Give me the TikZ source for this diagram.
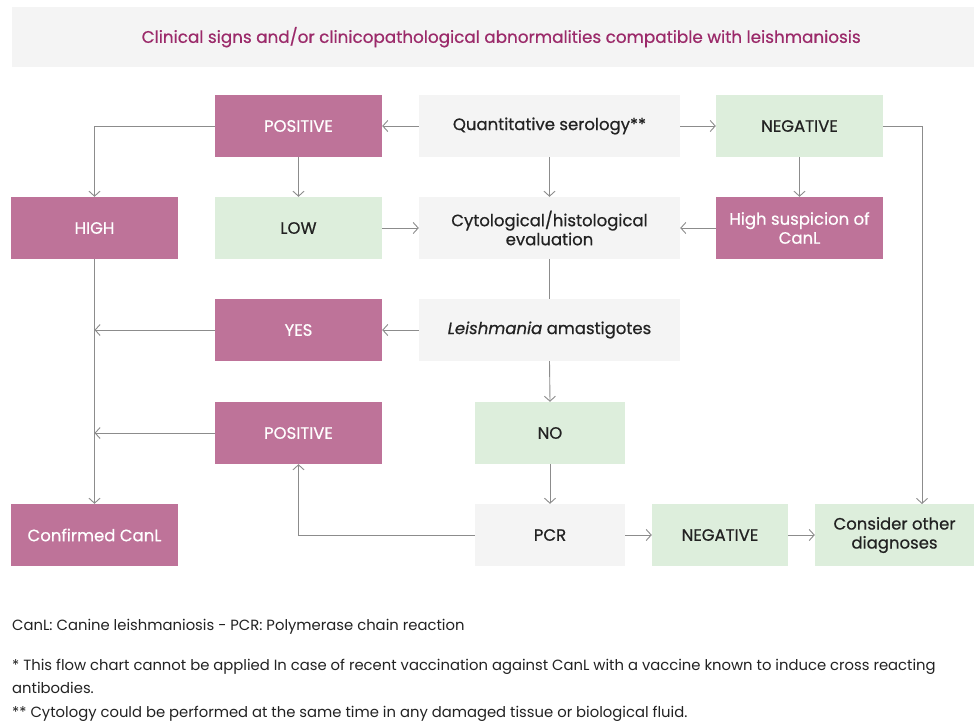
\documentclass[tikz,border=0pt]{standalone}
\usepackage{fontspec}
\setmainfont{Poppins}
\newfontfamily\pmed{Poppins}[FakeBold=0.6]
\usetikzlibrary{arrows.meta,calc}
\definecolor{mag}{HTML}{BE7399}
\definecolor{grn}{HTML}{DDEEDC}
\definecolor{gry}{HTML}{F4F4F4}
\definecolor{ttl}{HTML}{9B2A6A}
\definecolor{lin}{HTML}{8C8C8C}
\definecolor{txt}{HTML}{222222}
\begin{document}
\begin{tikzpicture}[x=1pt,y=-1pt,
  box/.style={rectangle,inner sep=2pt,minimum height=62pt,minimum width=167pt,align=center,font=\pmed\fontsize{16.5}{19}\selectfont},
  magbox/.style={box,fill=mag,text=white},
  grnbox/.style={box,fill=grn,text=txt},
  grybox/.style={box,fill=gry,text=txt},
  arr/.style={draw=lin,line width=0.9pt,-{Straight Barb[length=5pt,width=11pt,line width=0.9pt]}},
  pln/.style={draw=lin,line width=0.9pt},
  foot/.style={anchor=west,inner sep=0pt,text=txt,font=\fontsize{14.8}{16}\selectfont}]
\clip (0,0) rectangle (974,723);
\fill[white] (0,0) rectangle (974,723);
% title
\node[fill=gry,minimum width=962pt,minimum height=60pt,anchor=north west,inner sep=0pt,text=ttl,font=\pmed\fontsize{16.8}{19}\selectfont] (title) at (12,7) {\hspace*{16pt}Clinical signs and/or clinicopathological abnormalities compatible with leishmaniosis};
% row 1
\node[magbox] (pos1) at (298.5,126) {POSITIVE};
\node[grybox,minimum width=261pt] (quant) at (549.5,126) {Quantitative serology**};
\node[grnbox] (neg1) at (799.5,126) {NEGATIVE};
% row 2
\node[magbox] (high) at (94.5,228) {HIGH};
\node[grnbox] (low) at (298.5,228) {LOW};
\node[grybox,minimum width=261pt] (cyto) at (549.5,228) {Cytological/histological\\evaluation};
\node[magbox] (susp) at (799.5,228) {High suspicion of\\CanL};
% row 3
\node[magbox] (yes) at (298.5,330) {YES};
\node[grybox,minimum width=261pt] (leish) at (549.5,330) {\textit{Leishmania} amastigotes};
% row 4
\node[magbox] (pos2) at (298.5,433) {POSITIVE};
\node[grnbox,minimum width=150pt] (no) at (550,433) {NO};
% row 5
\node[magbox] (conf) at (94.5,535) {Confirmed CanL};
\node[grybox,minimum width=150pt] (pcr) at (550,535) {PCR};
\node[grnbox,minimum width=136pt] (neg2) at (720,535) {NEGATIVE};
\node[grnbox,minimum width=159pt] (cons) at (894.5,535) {Consider other\\diagnoses};
\coordinate (ctop) at (922,504);
% connectors
\draw[arr] (quant.west) -- (pos1.east);
\draw[arr] (quant.east) -- (neg1.west);
\draw[arr] (quant.south) -- (cyto.north);
\draw[arr] (pos1.west) -| (high.north);
\draw[arr] (pos1.south) -- (low.north);
\draw[arr] (low.east) -- (cyto.west);
\draw[arr] (neg1.south) -- (susp.north);
\draw[arr] (susp.west) -- (cyto.east);
\draw[arr] (neg1.east) -| (ctop);
\draw[pln] (cyto.south) -- (leish.north);
\draw[arr] (leish.west) -- (yes.east);
\draw[arr] (leish.south) -- (no.north);
\draw[arr] (no.south) -- (pcr.north);
\draw[arr] (pcr.east) -- (neg2.west);
\draw[arr] (neg2.east) -- (cons.west);
\draw[arr] (pcr.west) -| (pos2.south);
\draw[arr] (high.south) -- (conf.north);
\draw[arr] (yes.west) -- (yes.west -| high.south);
\draw[arr] (pos2.west) -- (pos2.west -| high.south);
% footnotes
\node[foot] (f1) at (12,627) {CanL: Canine leishmaniosis - PCR: Polymerase chain reaction};
\node[foot] (f2) at (12,667) {* This flow chart cannot be applied In case of recent vaccination against CanL with a vaccine known to induce cross reacting};
\node[foot] (f3) at (12,688) {antibodies.};
\node[foot] (f4) at (12,714) {** Cytology could be performed at the same time in any damaged tissue or biological fluid.};
\end{tikzpicture}
\end{document}
